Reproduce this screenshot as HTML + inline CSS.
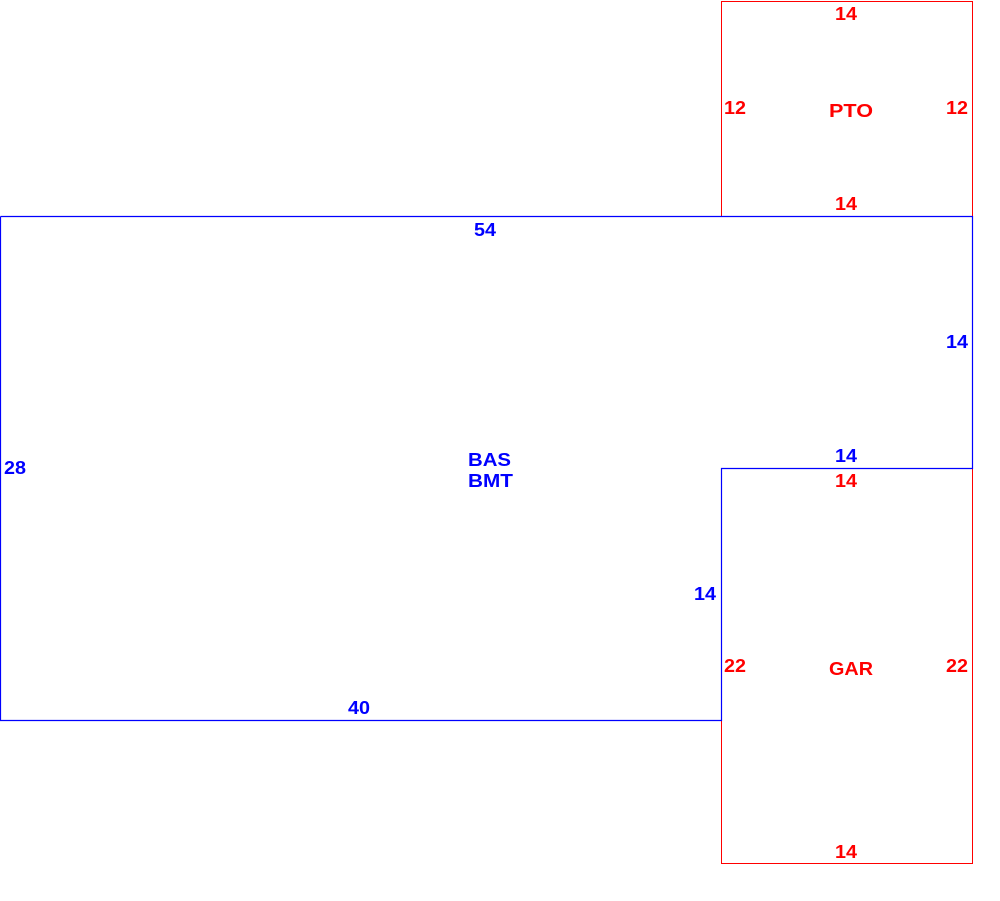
<!DOCTYPE html>
<html><head><style>
html,body{margin:0;padding:0;background:#fff;width:1000px;height:901px;overflow:hidden}
svg text{font-family:"Liberation Sans",sans-serif;font-size:18px;font-weight:bold}
</style></head><body>
<svg width="1000" height="901" xmlns="http://www.w3.org/2000/svg">
<g fill="none" stroke="#ff0000" stroke-width="1">
<rect x="721.5" y="1.5" width="251" height="215"/>
<rect x="721.5" y="468.5" width="251" height="395"/>
</g>
<polyline fill="none" stroke="#0000ff" stroke-width="1.2" points="0.5,216.5 972.5,216.5 972.5,468.5 721.5,468.5 721.5,720.5 0.5,720.5 0.5,216.5"/>
<g fill="#ff0000">
<text x="835" y="20" textLength="22" lengthAdjust="spacingAndGlyphs">14</text>
<text x="724" y="114" textLength="22" lengthAdjust="spacingAndGlyphs">12</text>
<text x="946" y="114" textLength="22" lengthAdjust="spacingAndGlyphs">12</text>
<text x="829" y="117" textLength="44" lengthAdjust="spacingAndGlyphs">PTO</text>
<text x="835" y="210" textLength="22" lengthAdjust="spacingAndGlyphs">14</text>
<text x="835" y="487" textLength="22" lengthAdjust="spacingAndGlyphs">14</text>
<text x="724" y="672" textLength="22" lengthAdjust="spacingAndGlyphs">22</text>
<text x="946" y="672" textLength="22" lengthAdjust="spacingAndGlyphs">22</text>
<text x="829" y="675" textLength="44" lengthAdjust="spacingAndGlyphs">GAR</text>
<text x="835" y="858" textLength="22" lengthAdjust="spacingAndGlyphs">14</text>
</g>
<g fill="#0000ff">
<text x="474" y="236" textLength="22" lengthAdjust="spacingAndGlyphs">54</text>
<text x="946" y="348" textLength="22" lengthAdjust="spacingAndGlyphs">14</text>
<text x="835" y="462" textLength="22" lengthAdjust="spacingAndGlyphs">14</text>
<text x="4" y="474" textLength="22" lengthAdjust="spacingAndGlyphs">28</text>
<text x="468" y="466" textLength="43" lengthAdjust="spacingAndGlyphs">BAS</text>
<text x="468" y="487" textLength="45" lengthAdjust="spacingAndGlyphs">BMT</text>
<text x="694" y="600" textLength="22" lengthAdjust="spacingAndGlyphs">14</text>
<text x="348" y="714" textLength="22" lengthAdjust="spacingAndGlyphs">40</text>
</g>
</svg>
</body></html>
